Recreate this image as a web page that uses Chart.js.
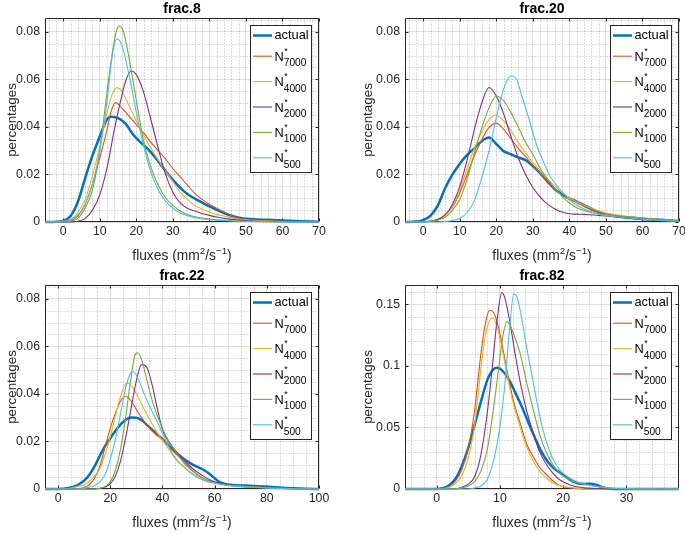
<!DOCTYPE html>
<html><head><meta charset="utf-8">
<script src="https://cdn.jsdelivr.net/npm/chart.js@4.4.1/dist/chart.umd.min.js"></script>
<style>
html,body{margin:0;padding:0;background:#fff;overflow:hidden;width:685px;height:534px;}
.p{position:absolute;width:342px;height:267px;}
canvas{display:block;}
</style></head><body>
<div class="p" style="left:0;top:0"><canvas id="c1" width="342" height="267"></canvas></div>
<div class="p" style="left:360px;top:0"><canvas id="c2" width="342" height="267"></canvas></div>
<div class="p" style="left:0;top:267px"><canvas id="c3" width="342" height="267"></canvas></div>
<div class="p" style="left:360px;top:267px"><canvas id="c4" width="342" height="267"></canvas></div>
<script>
// ---------- data ----------
const panelTitles = ['frac.8', 'frac.20', 'frac.22', 'frac.82'];
const seriesNames = ['actual', 'N', 'N', 'N', 'N', 'N'];
const seriesSubs = ['', '7000', '4000', '2000', '1000', '500'];
const xLabelParts = ['fluxes (mm', '2', '/s', '\u22121', ')'];
const yLabel = 'percentages';

const xTicks8 = [0, 10, 20, 30, 40, 50, 60, 70];
const xTicks20 = [0, 10, 20, 30, 40, 50, 60, 70];
const xTicks22 = [0, 20, 40, 60, 80, 100];
const xTicks82 = [0, 10, 20, 30];
const yTicksSmall = [0, 0.02, 0.04, 0.06, 0.08];
const yTickLabelsSmall = ['0', '0.02', '0.04', '0.06', '0.08'];
const yTicksBig = [0, 0.05, 0.1, 0.15];
const yTickLabelsBig = ['0', '0.05', '0.1', '0.15'];

// frac.8
const frac8_actual = [[-5,0],[-2,0.0001],[0,0.0005],[2,0.0025],[4,0.0085],[6,0.0185],[8,0.028],[10,0.036],[12,0.0433],[13,0.0443],[15,0.0437],[17,0.0415],[19,0.037],[21,0.0337],[23,0.031],[25,0.0275],[27,0.0235],[29,0.0195],[31,0.016],[33,0.013],[35,0.0107],[37,0.009],[40,0.0066],[44,0.0038],[48,0.0018],[52,0.0012],[56,0.0009],[60,0.0006],[65,0.0003],[70,0.0001]];
const frac8_n7000 = [[-5,0],[0,0],[2,0.0005],[4,0.0025],[6,0.0075],[8,0.016],[10,0.027],[12,0.039],[13,0.046],[14.3,0.0502],[16,0.048],[18,0.0445],[20,0.041],[22,0.0375],[24,0.0335],[26,0.030],[28,0.0265],[30,0.0225],[32,0.019],[34,0.0155],[36,0.012],[38,0.0095],[40,0.0075],[42,0.0058],[44,0.0042],[46,0.0027],[48,0.0015],[50,0.001],[55,0.0006],[60,0.0003],[70,0]];
const frac8_n4000 = [[-5,0],[0,0.0002],[2,0.001],[4,0.004],[6,0.0095],[8,0.0195],[10,0.032],[12,0.046],[13.5,0.054],[14.7,0.0565],[16,0.055],[18,0.049],[20,0.0425],[22,0.0365],[24,0.031],[26,0.026],[28,0.0215],[30,0.017],[32,0.0125],[34,0.0095],[36,0.007],[38,0.0055],[40,0.0042],[42,0.0032],[44,0.0025],[46,0.0018],[48,0.0012],[52,0.0007],[58,0.0003],[70,0]];
const frac8_n2000 = [[-5,0],[2,0],[4,0.0003],[6,0.0015],[8,0.005],[10,0.0115],[12,0.023],[14,0.039],[16,0.053],[17,0.059],[18.6,0.0635],[20,0.062],[22,0.0545],[24,0.043],[26,0.031],[28,0.020],[30,0.0125],[32,0.008],[34,0.0058],[36,0.0046],[38,0.0036],[40,0.0028],[42,0.0021],[45,0.0013],[48,0.0008],[52,0.0004],[60,0.0001],[70,0]];
const frac8_n1000 = [[-5,0],[0,0],[2,0.0003],[4,0.0015],[6,0.006],[8,0.0135],[10,0.03],[12,0.055],[13.5,0.072],[14.5,0.080],[15.3,0.0825],[16.5,0.080],[18,0.069],[20,0.051],[22,0.034],[24,0.023],[26,0.0155],[28,0.0102],[30,0.007],[32,0.0046],[34,0.0031],[36,0.0022],[40,0.0012],[45,0.0006],[50,0.0003],[60,0],[70,0]];
const frac8_n500 = [[-5,0],[0,0.0003],[2,0.001],[4,0.003],[6,0.0075],[8,0.016],[10,0.030],[12,0.051],[13.5,0.071],[14.7,0.077],[16,0.0745],[18,0.062],[20,0.046],[22,0.032],[24,0.021],[26,0.0135],[28,0.0088],[30,0.0058],[32,0.0038],[34,0.0026],[36,0.0018],[40,0.001],[45,0.0005],[50,0.0002],[60,0],[70,0]];

// frac.20
const frac20_actual = [[-5,0],[-2,0.0002],[0,0.0008],[2,0.0027],[4,0.007],[6,0.0143],[8,0.02],[10,0.0245],[12,0.0282],[14,0.031],[16,0.034],[18,0.0355],[20,0.0328],[22,0.0298],[24,0.0285],[26,0.0272],[28,0.026],[30,0.0235],[32,0.0205],[34,0.017],[36,0.0138],[38,0.0117],[40,0.0099],[42,0.0086],[44,0.0071],[46,0.0056],[48,0.0041],[50,0.0031],[54,0.0021],[58,0.0015],[62,0.0011],[66,0.0008],[70,0.0004]];
const frac20_n7000 = [[-5,0],[0,0.0001],[2,0.0005],[4,0.0012],[6,0.003],[8,0.0063],[10,0.0122],[12,0.02],[14,0.028],[16,0.0345],[18,0.0398],[20,0.0415],[22,0.039],[24,0.035],[26,0.031],[28,0.0275],[30,0.0238],[32,0.0205],[34,0.017],[36,0.0138],[38,0.0113],[40,0.0095],[42,0.0082],[44,0.0065],[46,0.005],[48,0.0042],[50,0.0035],[54,0.0025],[58,0.002],[62,0.0015],[66,0.001],[70,0.0005]];
const frac20_n4000 = [[-5,0],[0,0.0001],[2,0.0004],[4,0.0012],[6,0.003],[8,0.0065],[10,0.0135],[12,0.0225],[14,0.031],[16,0.038],[18,0.043],[19.7,0.045],[22,0.0425],[24,0.0385],[26,0.0335],[28,0.029],[30,0.025],[32,0.0215],[34,0.018],[36,0.0152],[38,0.0125],[40,0.0102],[42,0.0085],[44,0.007],[46,0.0058],[48,0.0047],[50,0.0038],[54,0.0028],[58,0.0019],[62,0.0013],[66,0.0008],[70,0.0004]];
const frac20_n2000 = [[-5,0],[0,0],[2,0.0003],[4,0.001],[6,0.003],[8,0.0075],[10,0.015],[12,0.026],[14,0.039],[16,0.050],[18,0.0566],[20,0.053],[22,0.0455],[24,0.036],[26,0.027],[28,0.02],[30,0.0145],[32,0.0105],[34,0.0075],[36,0.0055],[38,0.0042],[40,0.0035],[42,0.0033],[44,0.0032],[46,0.003],[48,0.0028],[50,0.0025],[54,0.0021],[58,0.0016],[62,0.0011],[66,0.0007],[70,0.0004]];
const frac20_n1000 = [[-5,0],[0,0],[2,0.0002],[4,0.0008],[6,0.002],[8,0.005],[10,0.0095],[12,0.018],[14,0.029],[16,0.0395],[18,0.048],[20,0.053],[22,0.051],[24,0.046],[26,0.040],[28,0.0335],[30,0.0285],[32,0.0225],[34,0.0182],[36,0.0142],[38,0.0108],[40,0.008],[42,0.006],[44,0.0048],[46,0.004],[48,0.0034],[50,0.003],[54,0.0025],[58,0.002],[62,0.0014],[66,0.0009],[70,0.0005]];
const frac20_n500 = [[-5,0],[4,0],[6,0.0002],[8,0.0006],[10,0.0015],[12,0.004],[14,0.009],[16,0.0185],[18,0.030],[20,0.044],[22,0.056],[24,0.0615],[25.5,0.060],[27,0.053],[29,0.043],[31,0.0325],[33,0.025],[35,0.0185],[37,0.0145],[39,0.011],[41,0.0082],[43,0.0062],[45,0.0048],[48,0.0033],[52,0.0023],[56,0.0017],[60,0.0012],[65,0.0007],[70,0.0003]];

// frac.22
const frac22_actual = [[-5,0],[0,0],[4,0.0004],[6,0.001],[8,0.002],[10,0.0035],[12,0.006],[14,0.0095],[16,0.014],[18,0.018],[20,0.0213],[22,0.0245],[24,0.0272],[26,0.0292],[28,0.0301],[30,0.03],[32,0.029],[34,0.027],[36,0.025],[38,0.023],[40,0.021],[42,0.0188],[44,0.0167],[46,0.0146],[48,0.0128],[50,0.0113],[52,0.01],[54,0.009],[56,0.0079],[58,0.0064],[60,0.0045],[62,0.0029],[64,0.0021],[67,0.0017],[75,0.0013],[82,0.0008],[90,0.0003],[95,0.0001],[100,0]];
const frac22_n7000 = [[-5,0],[6,0],[8,0.0002],[10,0.0006],[12,0.0018],[14,0.0045],[16,0.0095],[18,0.0175],[20,0.0255],[22,0.032],[24,0.037],[26,0.039],[28,0.037],[30,0.0335],[32,0.030],[34,0.027],[36,0.0245],[38,0.0225],[40,0.021],[42,0.0185],[44,0.016],[46,0.0138],[48,0.0118],[50,0.0095],[52,0.0073],[54,0.0055],[56,0.0043],[58,0.0034],[60,0.0027],[64,0.0018],[70,0.0011],[80,0.0005],[90,0.0002],[100,0]];
const frac22_n4000 = [[-5,0],[4,0.0002],[6,0.0007],[8,0.0012],[10,0.0017],[12,0.0032],[14,0.0055],[16,0.0085],[18,0.0145],[20,0.022],[22,0.031],[24,0.039],[26,0.0443],[27,0.0445],[29,0.042],[31,0.038],[33,0.0335],[35,0.0295],[37,0.0255],[39,0.022],[41,0.019],[43,0.0158],[45,0.0128],[48,0.0095],[51,0.007],[54,0.005],[57,0.0035],[60,0.0026],[65,0.0016],[70,0.0011],[80,0.0005],[90,0.0002],[100,0]];
const frac22_n2000 = [[-5,0],[14,0],[16,0.0002],[18,0.0008],[20,0.0022],[22,0.0055],[24,0.012],[26,0.022],[28,0.034],[30,0.0455],[32,0.0523],[34,0.0512],[36,0.044],[38,0.034],[40,0.025],[42,0.0205],[44,0.0175],[46,0.0148],[48,0.0125],[50,0.0102],[52,0.0082],[54,0.0066],[56,0.0052],[58,0.004],[60,0.003],[64,0.0019],[70,0.0011],[80,0.0005],[90,0.0002],[100,0]];
const frac22_n1000 = [[-5,0],[14,0],[16,0.0003],[18,0.001],[20,0.003],[22,0.008],[24,0.017],[26,0.031],[28,0.047],[29.5,0.0565],[30.5,0.0573],[32,0.0545],[34,0.046],[36,0.0375],[38,0.031],[40,0.0255],[42,0.021],[44,0.0175],[46,0.0143],[48,0.0112],[50,0.009],[52,0.0072],[54,0.0056],[56,0.0043],[58,0.0033],[60,0.0026],[64,0.0018],[70,0.0012],[80,0.0005],[90,0.0002],[100,0]];
const frac22_n500 = [[-5,0],[8,0],[10,0.0003],[12,0.0008],[14,0.0015],[16,0.003],[18,0.006],[20,0.0125],[22,0.021],[24,0.032],[26,0.043],[28,0.049],[29,0.0493],[31,0.0455],[33,0.040],[35,0.035],[37,0.0305],[39,0.026],[41,0.021],[43,0.0165],[45,0.013],[48,0.0095],[51,0.0066],[54,0.0045],[57,0.0032],[60,0.0024],[65,0.0015],[70,0.001],[80,0.0004],[90,0.0001],[100,0]];

// frac.82
const frac82_actual = [[-5,0],[0,0],[1,0.0008],[2,0.003],[3,0.0085],[4,0.019],[5,0.0335],[6,0.052],[7,0.071],[8,0.0885],[9,0.0975],[9.6,0.0985],[10.5,0.0955],[11.5,0.088],[12.5,0.0775],[13.5,0.0665],[14.5,0.054],[15.5,0.042],[16.5,0.031],[17.5,0.0225],[18.5,0.017],[19.5,0.0132],[20.5,0.0095],[21.5,0.0062],[22.5,0.0045],[23.5,0.0041],[24.3,0.0043],[25.3,0.0032],[26.3,0.0012],[27.5,0.0003],[30,0],[38.3,0]];
const frac82_n7000 = [[-5,0],[0,0],[1,0.0005],[2,0.002],[3,0.0065],[4,0.016],[5,0.033],[6,0.064],[7,0.11],[7.8,0.137],[8.4,0.1455],[9,0.1435],[9.8,0.131],[10.5,0.113],[11.3,0.0915],[12.1,0.0725],[13.2,0.0535],[14.2,0.037],[15.3,0.026],[16.3,0.0175],[17.1,0.013],[18.2,0.0075],[19.2,0.0035],[20.5,0.0014],[22,0.0005],[25,0],[38.3,0]];
const frac82_n4000 = [[-5,0],[0,0],[1,0.0003],[2,0.0015],[3,0.0045],[4,0.011],[5,0.025],[6,0.052],[7,0.098],[7.6,0.122],[8.4,0.137],[8.9,0.139],[9.7,0.129],[10.5,0.11],[11.3,0.0885],[12.1,0.0695],[13.2,0.0505],[14.2,0.0345],[15.3,0.0225],[16.3,0.0142],[17.4,0.0088],[18.4,0.0048],[20,0.002],[22,0.0006],[25,0],[38.3,0]];
const frac82_n2000 = [[-5,0],[3,0],[4,0.0015],[5,0.004],[6,0.01],[7,0.028],[8,0.062],[8.7,0.094],[9.5,0.135],[10.3,0.1596],[10.8,0.155],[11.6,0.135],[12.4,0.11],[13.2,0.087],[14.2,0.064],[15.3,0.045],[16.3,0.030],[17.4,0.0195],[18.4,0.0127],[19.5,0.0073],[21.1,0.0033],[22.6,0.0014],[25,0.0004],[28,0],[38.3,0]];
const frac82_n1000 = [[-5,0],[3,0],[4,0.001],[5,0.0025],[6,0.006],[7,0.0145],[8,0.032],[9,0.066],[9.7,0.094],[10.5,0.125],[11.1,0.136],[11.6,0.133],[12.4,0.1225],[13.2,0.110],[14.2,0.087],[15.3,0.064],[16.3,0.044],[17.4,0.029],[18.4,0.0195],[19.5,0.0127],[21.1,0.0073],[22.6,0.0046],[24.7,0.0027],[26.8,0.001],[29,0.0002],[38.3,0]];
const frac82_n500 = [[-5,0],[5,0],[6,0.0008],[7,0.0025],[8,0.0078],[9,0.023],[10,0.0507],[10.8,0.086],[11.6,0.135],[12.2,0.1585],[12.7,0.156],[13.4,0.14],[14.2,0.1157],[15,0.094],[15.8,0.072],[16.8,0.048],[17.9,0.0303],[18.9,0.0195],[20,0.0127],[21.6,0.0073],[23.7,0.0033],[26.3,0.0014],[29,0.0004],[32,0],[38.3,0]];

// ---------- styles ----------
const FONT = '"Liberation Sans", Arial, Helvetica, sans-serif';
const INK = '#262626';
const seriesColors = ['#0072BD', '#D95319', '#EDB120', '#7E2F8E', '#77AC30', '#4DBEEE'];
const seriesWidths = [2.5, 1.1, 1.1, 1.1, 1.1, 1.1];

const panels = [
  { id: 'c1', title: panelTitles[0], series: [frac8_actual, frac8_n7000, frac8_n4000, frac8_n2000, frac8_n1000, frac8_n500], xMin: -5, xMax: 70, xTicks: xTicks8, xMinor: 2, yMax: 0.0858, yTicks: yTicksSmall, yLabels: yTickLabelsSmall, yMinor: 0.005, yTitlePad: 4 },
  { id: 'c2', title: panelTitles[1], series: [frac20_actual, frac20_n7000, frac20_n4000, frac20_n2000, frac20_n1000, frac20_n500], xMin: -5, xMax: 70, xTicks: xTicks20, xMinor: 2, yMax: 0.0858, yTicks: yTicksSmall, yLabels: yTickLabelsSmall, yMinor: 0.005, yTitlePad: 0 },
  { id: 'c3', title: panelTitles[2], series: [frac22_actual, frac22_n7000, frac22_n4000, frac22_n2000, frac22_n1000, frac22_n500], xMin: -5, xMax: 100, xTicks: xTicks22, xMinor: 5, yMax: 0.0858, yTicks: yTicksSmall, yLabels: yTickLabelsSmall, yMinor: 0.005, yTitlePad: 4 },
  { id: 'c4', title: panelTitles[3], series: [frac82_actual, frac82_n7000, frac82_n4000, frac82_n2000, frac82_n1000, frac82_n500], xMin: -5, xMax: 38.3, xTicks: xTicks82, xMinor: 2, yMax: 0.1658, yTicks: yTicksBig, yLabels: yTickLabelsBig, yMinor: 0.01, yTitlePad: 0 }
];

const matlabAxes = {
  id: 'matlabAxes',
  beforeDatasetsDraw(chart, args, o) {
    const { ctx, chartArea: a } = chart;
    const xs = chart.scales.x, ys = chart.scales.y;
    const L = Math.round(a.left) + 0.5, R = Math.round(a.right) - 0.5;
    const T = Math.round(a.top) + 0.5, B = Math.round(a.bottom) - 0.5;
    ctx.save();
    ctx.lineWidth = 1;
    ctx.strokeStyle = 'rgba(38,38,38,0.32)';
    ctx.setLineDash([1, 2]);
    const isMajor = (v, arr) => arr.some(m => Math.abs(m - v) < 1e-9);
    const n0 = Math.ceil(xs.min / o.xMinor), n1 = Math.floor(xs.max / o.xMinor);
    for (let n = n0; n <= n1; n++) {
      const v = n * o.xMinor;
      if (isMajor(v, o.xTicks)) continue;
      const px = Math.round(xs.getPixelForValue(v)) + 0.5;
      if (px <= L + 1 || px >= R - 1) continue;
      ctx.beginPath(); ctx.moveTo(px, T); ctx.lineTo(px, B); ctx.stroke();
    }
    const m1 = Math.floor(ys.max / o.yMinor + 1e-9);
    for (let n = 1; n <= m1; n++) {
      const v = n * o.yMinor;
      if (isMajor(v, o.yTicks)) continue;
      const py = Math.round(ys.getPixelForValue(v)) + 0.5;
      if (py <= T + 1 || py >= B - 1) continue;
      ctx.beginPath(); ctx.moveTo(L, py); ctx.lineTo(R, py); ctx.stroke();
    }
    ctx.setLineDash([]);
    ctx.strokeStyle = INK;
    ctx.beginPath();
    ctx.rect(L, T, R - L, B - T);
    ctx.stroke();
    const tl = 3;
    ctx.beginPath();
    for (const v of o.xTicks) {
      const px = Math.round(xs.getPixelForValue(v)) + 0.5;
      ctx.moveTo(px, B); ctx.lineTo(px, B - tl);
      ctx.moveTo(px, T); ctx.lineTo(px, T + tl);
    }
    for (const v of o.yTicks) {
      const py = Math.round(ys.getPixelForValue(v)) + 0.5;
      ctx.moveTo(L, py); ctx.lineTo(L + tl, py);
      ctx.moveTo(R, py); ctx.lineTo(R - tl, py);
    }
    ctx.stroke();
    ctx.restore();
  },
  afterDatasetsDraw(chart) {
    const { ctx, chartArea: a } = chart;
    const bx = Math.round(a.right) - 68.5, by = Math.round(a.top) + 7.5, bw = 61, bh = 147;
    ctx.save();
    ctx.fillStyle = '#fff';
    ctx.fillRect(bx, by, bw, bh);
    ctx.strokeStyle = INK; ctx.lineWidth = 1;
    ctx.strokeRect(bx, by, bw, bh);
    const rowY = [10, 30.7, 56.1, 81.5, 106.9, 132.3];
    chart.data.datasets.forEach((ds, i) => {
      const ly = by + rowY[i];
      ctx.strokeStyle = ds.borderColor; ctx.lineWidth = ds.borderWidth;
      ctx.beginPath(); ctx.moveTo(bx + 2.5, ly); ctx.lineTo(bx + 21.5, ly); ctx.stroke();
      ctx.fillStyle = '#000';
      ctx.textAlign = 'left';
      const tx = bx + 24;
      if (!seriesSubs[i]) {
        ctx.font = '12.8px ' + FONT;
        ctx.textBaseline = 'middle';
        ctx.fillText(seriesNames[i], tx, ly);
      } else {
        ctx.textBaseline = 'alphabetic';
        ctx.font = '12.8px ' + FONT;
        ctx.fillText(seriesNames[i], tx, ly + 4.5);
        const nw = ctx.measureText(seriesNames[i]).width;
        ctx.font = '9px ' + FONT;
        ctx.fillText('*', tx + nw + 0.5, ly - 2.5);
        ctx.font = '10.2px ' + FONT;
        ctx.fillText(seriesSubs[i], tx + nw, ly + 10);
      }
    });
    ctx.restore();
  },
  afterDraw(chart) {
    const { ctx, chartArea: a } = chart;
    const big = '13.8px ' + FONT, small = '9.8px ' + FONT;
    const fonts = [big, small, big, small, big];
    const rise = [0, -5.6, 0, -5.6, 0];
    ctx.save();
    ctx.fillStyle = INK;
    ctx.textBaseline = 'alphabetic';
    ctx.textAlign = 'left';
    const widths = xLabelParts.map((t, i) => { ctx.font = fonts[i]; return ctx.measureText(t).width; });
    const total = widths.reduce((s, w) => s + w, 0);
    let x = (a.left + a.right) / 2 - total / 2;
    const base = a.bottom + 38;
    xLabelParts.forEach((t, i) => {
      ctx.font = fonts[i];
      ctx.fillText(t, x, base + rise[i]);
      x += widths[i];
    });
    ctx.restore();
  }
};

function makeChart(p) {
  const datasets = p.series.map((pts, i) => ({
    label: seriesNames[i] + seriesSubs[i],
    data: pts.map(([x, y]) => ({ x, y })),
    borderColor: seriesColors[i],
    borderWidth: seriesWidths[i],
    pointRadius: 0,
    fill: false,
    cubicInterpolationMode: 'monotone',
    order: 10 - i,
    clip: 4
  }));
  return new Chart(document.getElementById(p.id), {
    type: 'line',
    data: { datasets },
    options: {
      responsive: false,
      animation: false,
      events: [],
      layout: { padding: { left: 0, top: 0, right: 23, bottom: 0 } },
      plugins: {
        legend: { display: false },
        tooltip: { enabled: false },
        title: {
          display: true, text: p.title, fullSize: false, color: '#000',
          font: { family: FONT, size: 14, weight: 'bold', lineHeight: 1.2 },
          padding: { top: 0.6, bottom: 0.6 }
        },
        matlabAxes: { xTicks: p.xTicks, yTicks: p.yTicks, xMinor: p.xMinor, yMinor: p.yMinor }
      },
      scales: {
        x: {
          type: 'linear', min: p.xMin, max: p.xMax,
          afterBuildTicks: ax => { ax.ticks = p.xTicks.map(v => ({ value: v })); },
          afterFit: s => { s.height = 45; },
          grid: { color: 'rgba(38,38,38,0.15)', drawTicks: false, lineWidth: 1 },
          border: { display: false },
          ticks: { color: INK, font: { family: FONT, size: 12.3 }, padding: 2.5, maxRotation: 0, autoSkip: false, callback: v => String(v) }
        },
        y: {
          type: 'linear', min: 0, max: p.yMax,
          afterBuildTicks: ax => { ax.ticks = p.yTicks.map(v => ({ value: v })); },
          afterFit: s => { s.width = 45; },
          grid: { color: 'rgba(38,38,38,0.15)', drawTicks: false, lineWidth: 1 },
          border: { display: false },
          ticks: { color: INK, font: { family: FONT, size: 12.3 }, padding: 5, autoSkip: false, callback: (v, i) => p.yLabels[i] },
          title: { display: true, text: yLabel, color: INK, font: { family: FONT, size: 13.4, lineHeight: 1.2 }, padding: { top: p.yTitlePad, bottom: 0 } }
        }
      }
    },
    plugins: [matlabAxes]
  });
}

panels.forEach(makeChart);
</script>
</body></html>
